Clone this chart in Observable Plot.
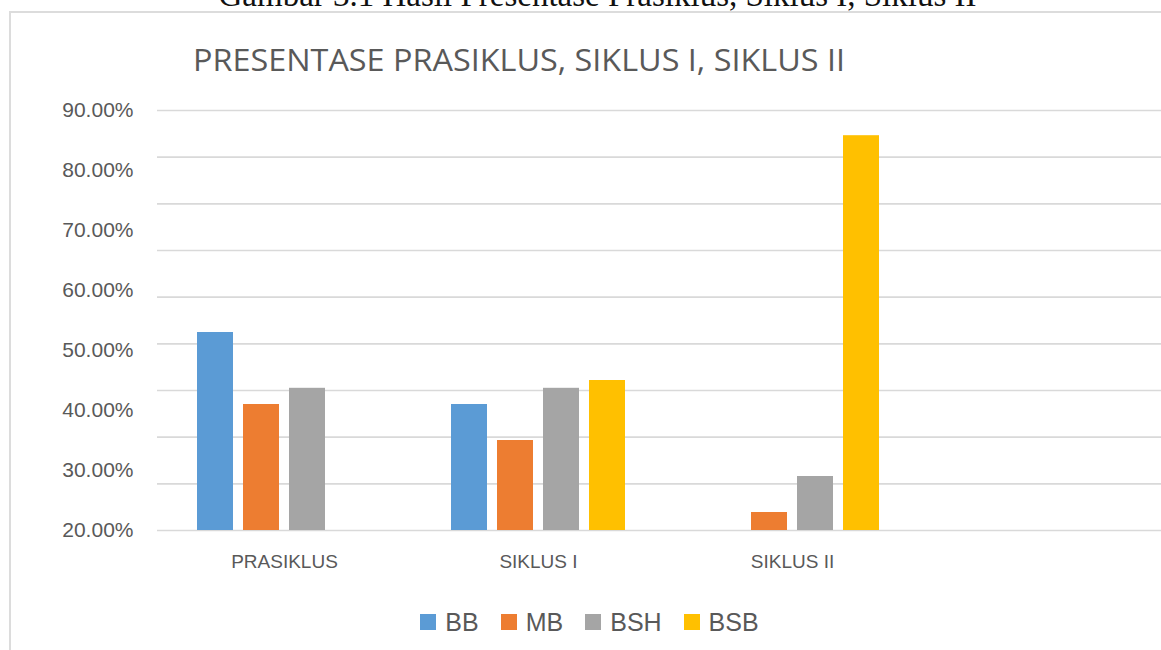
<!DOCTYPE html>
<html>
<head>
<meta charset="utf-8">
<script src="https://cdn.jsdelivr.net/npm/d3@7"></script>
<script src="https://cdn.jsdelivr.net/npm/@observablehq/plot@0.6"></script>
<style>
  html, body { margin: 0; padding: 0; background: #fff; overflow: hidden; }
  #wrap { position: relative; width: 1161px; height: 650px; font-family: "Liberation Sans", Arial, sans-serif; color: #595959; }
  #frame { position: absolute; left: 9px; top: 11px; width: 1300px; height: 800px; border-left: 2px solid #dcdcdc; border-top: 2px solid #dcdcdc; }
  #caption { position: absolute; top: -21px; left: 0; width: 1195px; text-align: center; font: 33px "Liberation Serif", serif; line-height: 33px; color: #111; white-space: nowrap; }
  #title { position: relative; height: 90px; }
  #titletext { position: absolute; left: 193px; top: 39px; font: 31px "Open Sans", sans-serif; color: #595959; white-space: nowrap; transform-origin: 0 0; line-height: 40px; }
  #chart { position: relative; }
  #legend { position: relative; height: 70px; display: flex; justify-content: center; align-items: center; padding-left: 18px; padding-top: 14px; box-sizing: border-box; width: 1161px; }
  .item { display: flex; align-items: center; margin: 0 11px; font-size: 25px; color: #595959; }
  .sw { width: 16px; height: 16px; margin-right: 9px; }
</style>
</head>
<body>
<div id="wrap">
  <div id="frame"></div>
  <div id="caption">Gambar 3.1 Hasil Presentase Prasiklus, Siklus I, Siklus II</div>
  <div id="title"><span id="titletext">PRESENTASE PRASIKLUS, SIKLUS I, SIKLUS II</span></div>
  <div id="chart"></div>
  <div id="legend"></div>
</div>
<script>
// ---- data ----
const categories = ["PRASIKLUS", "SIKLUS I", "SIKLUS II", " "];
const series = ["BB", "MB", "BSH", "BSB"];
const colors = ["#5b9bd5", "#ed7d31", "#a5a5a5", "#ffc000"];
const valuesBB  = [53.0, 41.0, null, null];
const valuesMB  = [41.0, 35.0, 23.0, null];
const valuesBSH = [43.7, 43.7, 29.0, null];
const valuesBSB = [null, 45.0, 85.8, null];
const yTicks = [20, 30, 40, 50, 60, 70, 80, 90];

// ---- build table ----
const seriesValues = [valuesBB, valuesMB, valuesBSH, valuesBSB];
const rows = [];
categories.forEach((cat, i) => {
  series.forEach((s, j) => {
    rows.push({cat, series: s, value: seriesValues[j][i]});
  });
});

const yMin = yTicks[0], yMax = yTicks[yTicks.length - 1];
// 10 evenly spaced horizontal gridlines across the value range (as in the original)
const gridLines = d3.range(10).map(i => yMin + i * (yMax - yMin) / 9);

// title width fit
const tt = document.getElementById("titletext");
const tw = tt.getBoundingClientRect().width;
tt.style.transform = `scaleX(${652 / tw})`;

const chart = Plot.plot({
  width: 1161,
  height: 490,
  marginTop: 20,
  marginBottom: 50,
  marginLeft: 157,
  marginRight: 0,
  style: {background: "transparent", fontFamily: "Liberation Sans, Arial, sans-serif", fontSize: "21px", color: "#595959", overflow: "hidden"},
  facet: {data: rows, x: "cat"},
  fx: {domain: categories, range: [157, 1173], padding: 0, axis: null, label: null},
  x: {domain: series, paddingInner: 10 / 46, paddingOuter: 40 / 46, axis: null, round: false},
  y: {domain: [yMin, yMax], ticks: yTicks, tickFormat: d => d.toFixed(2) + "%", tickSize: 0, tickPadding: 24, label: null, line: false},
  color: {domain: series, range: colors},
  marks: [
    Plot.ruleY(gridLines, {stroke: "#d9d9d9", strokeWidth: 1.6}),
    Plot.barY(rows, {x: "series", y1: yMin, y2: "value", fill: "series"}),
    Plot.text(rows, Plot.selectFirst({text: "cat", frameAnchor: "bottom", dy: 37, fontSize: 19, fill: "#595959", letterSpacing: 0.5}))
  ]
});
document.getElementById("chart").appendChild(chart);

// legend
const legend = document.getElementById("legend");
series.forEach((s, i) => {
  const it = document.createElement("div");
  it.className = "item";
  const sw = document.createElement("span");
  sw.className = "sw";
  sw.style.background = colors[i];
  const lb = document.createElement("span");
  lb.textContent = s;
  it.appendChild(sw);
  it.appendChild(lb);
  legend.appendChild(it);
});
</script>
</body>
</html>
